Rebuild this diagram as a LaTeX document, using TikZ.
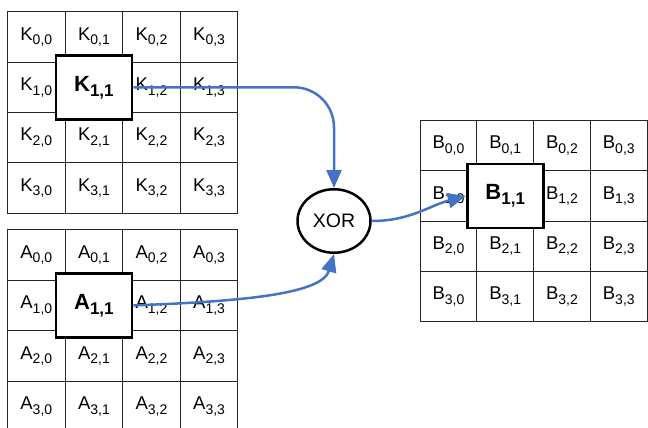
\documentclass[tikz,border=0pt]{standalone}
\usepackage{fontspec}
\setmainfont{Liberation Sans}
\usetikzlibrary{arrows.meta,shapes.geometric}
\definecolor{flow}{HTML}{4472C4}
% element label with lowered index
\newcommand\idx[2]{#1\raisebox{-4.5pt}{\fontsize{14}{14}\selectfont#2}}
% highlighted element label
\newcommand\bigidx[2]{{\bfseries\fontsize{22}{22}\selectfont#1\raisebox{-5pt}{\fontsize{17}{17}\selectfont#2}}}
\tikzset{
  cell/.style 2 args={draw=black!85, line width=0.9pt, inner sep=0pt,
    minimum width=#1, minimum height=#2, font=\fontsize{18.5}{18.5}\selectfont},
  hbox/.style={draw=black, line width=2.8pt, fill=white, inner sep=0pt,
    minimum width=76pt, minimum height=64pt},
  opnode/.style={ellipse, draw=black, line width=2.5pt, fill=white, inner sep=0pt,
    minimum width=73pt, minimum height=63.5pt, font=\fontsize{19.5}{19.5}\selectfont},
  flowarrow/.style={draw=flow, line width=2.5pt, -{Triangle[length=18pt,width=15pt]}}
}
\begin{document}
\begin{tikzpicture}[x=1pt,y=1pt]
\useasboundingbox (0,0) rectangle (648,-428);
\clip (0,0) rectangle (648,-428);

% key matrix
\foreach \r in {0,...,3}
  \foreach \c in {0,...,3}
    \node[cell={57.6pt}{50.4pt}] (K-\r-\c) at ({7.5+57.6*(\c+0.5)},{-(11.7+50.4*(\r+0.5))}) {\idx{K}{\r,\c}};

% state matrix
\foreach \r in {0,...,3}
  \foreach \c in {0,...,3}
    \node[cell={57.6pt}{50.6pt}] (A-\r-\c) at ({7.5+57.6*(\c+0.5)},{-(229.5+50.6*(\r+0.5))}) {\idx{A}{\r,\c}};

% result matrix
\foreach \r in {0,...,3}
  \foreach \c in {0,...,3}
    \node[cell={56.8pt}{50.3pt}] (B-\r-\c) at ({420+56.8*(\c+0.5)},{-(120.5+50.3*(\r+0.5))}) {\idx{B}{\r,\c}};

% highlighted elements
\node[hbox] (Kh) at (K-1-1) {\bigidx{K}{1,1}};
\node[hbox] (Ah) at (A-1-1) {\bigidx{A}{1,1}};
\node[hbox] (Bh) at (B-1-1) {\bigidx{B}{1,1}};

% operator
\node[opnode] (xor) at (334,-221) {XOR};

% data flow
\draw[flowarrow, rounded corners=40pt] (Kh.east) -| (xor.north);
\draw[flowarrow] (Ah.east) .. controls +(110,4) and +(-12,-40) .. (xor.south);
\draw[flowarrow] (xor.east) to[out=0,in=195] (Bh.west);
\end{tikzpicture}
\end{document}
